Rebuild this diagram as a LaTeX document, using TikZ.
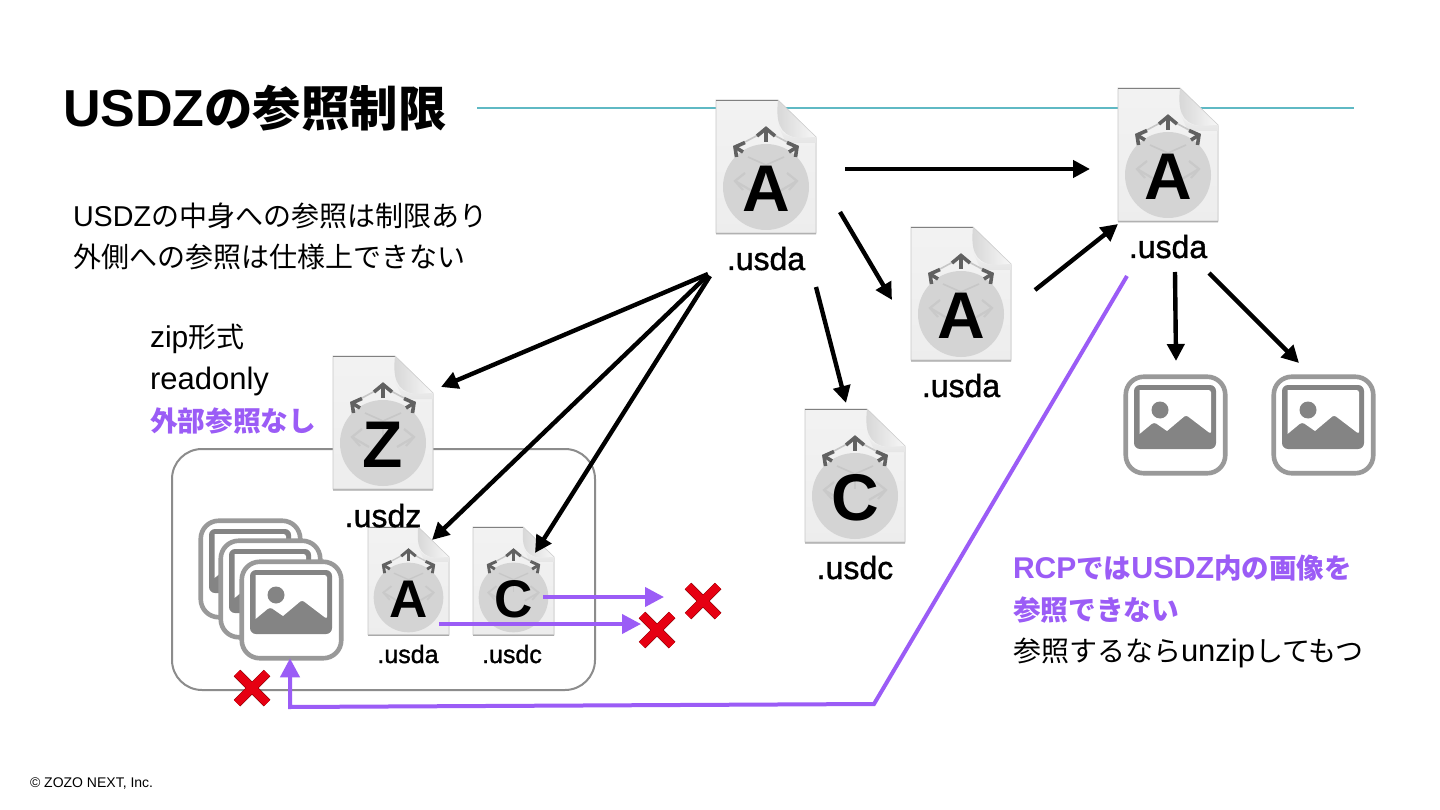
\documentclass[tikz,border=0pt]{standalone}
\usepackage{fontspec}
\setmainfont{Liberation Sans}
\newfontfamily\cj{Noto Sans CJK JP}
\newfontfamily\med[FakeBold=1.2]{Liberation Sans}
\usetikzlibrary{arrows.meta}
\definecolor{pur}{HTML}{9B5CF6}
\definecolor{teal1}{HTML}{5FB9C4}
\definecolor{imgA}{HTML}{999999}
\definecolor{imgB}{HTML}{848484}
\definecolor{redx}{HTML}{E60012}
\tikzset{
  x=1pt,y=-1pt,
  blk/.style={line width=4.4pt,black,-{Triangle[length=17pt,width=17pt]}},
  purp/.style={line width=4pt,pur,line join=miter,-{Triangle[length=19pt,width=19pt]}},
  txt/.style={anchor=base west,inner sep=0pt,outer sep=0pt},
  lab/.style={anchor=base,inner sep=0pt,outer sep=0pt,text=black},
  xdark/.style={line width=9.2pt,color=black!55!red},
  xred/.style={line width=8.2pt,color=redx},
}
\newcommand{\fs}[1]{\fontsize{#1}{#1}\selectfont}
% name, x, y, scale, font size, letter
\newcommand{\fileicon}[6]{%
\begin{scope}[shift={(#2,#3)},scale=#4]
  \def\sc{#4}
  \fill[black!35] (1,1) -- (61,1) -- (100,38) -- (100,134.5) -- (0,134.5) -- cycle;
  \path[top color=white!95!black,bottom color=white!93!black,draw=black!22,line width=.6pt]
     (0,0) -- (62,0) -- (100,37) -- (100,133) -- (0,133) -- cycle;
  \draw[black!50,line width=.7pt] (0,0) -- (62,0);
  \node[inner sep=0pt,outer sep=0pt,minimum width=100*\sc pt,minimum height=133*\sc pt] (#1) at (50,66.5) {};
  \path[left color=black!16,right color=white!97!black] (62,0) .. controls (60,20) and (62,35) .. (82,38) -- (100,37) -- cycle;
  \draw[black!18,line width=.5pt] (62,0) -- (100,37);
  \path[bottom color=black!10,top color=white!94!black] (62,25) .. controls (66,34) and (72,37) .. (82,38) -- (100,37) -- (100,43) -- (70,43) -- cycle;
  \fill[black!17] (50,87) circle (43);
  \begin{scope}[line width=1.6*\sc pt,black!22]
    \draw (29,42) -- (42,35);
    \draw (71,42) -- (58,35);
    \draw (32,57) -- (50,65) -- (68,57);
  \end{scope}
  \begin{scope}[line width=3.6*\sc pt,black!62,line cap=butt,line join=miter]
    \draw (41,36) -- (50,28.5) -- (59,36);
    \draw (50,29) -- (50,42);
    \draw (29,42.5) -- (19,47) -- (20.5,57);
    \draw (19,47) -- (27,52);
    \draw (71,42.5) -- (81,47) -- (79.5,57);
    \draw (81,47) -- (73,52);
  \end{scope}
  \begin{scope}[line width=2.2*\sc pt,black!21]
    \draw (29,73) -- (19,81) -- (27,90);
    \draw (71,73) -- (81,81) -- (73,90);
    \draw (19,81) -- (36,91);
    \draw (81,81) -- (64,91);
    \draw (50,66) -- (50,80);
  \end{scope}
  \node[inner sep=0pt,text=black] at (50,89) {\fs{#5}\bfseries #6};
\end{scope}}
% name, x, y
\newcommand{\imgicon}[3]{%
\begin{scope}[shift={(#2,#3)}]
  \node[inner sep=0pt,outer sep=0pt,minimum width=99.5pt,minimum height=96.5pt,draw=imgA,fill=white,line width=4.6pt,rounded corners=18pt] (#1) at (51.5,50) {};
  \fill[imgB,rounded corners=6pt] (10,10) rectangle (92,74);
  \fill[white] (15.5,15) [rounded corners=2.5pt] -- (87,15) -- (87,59) -- (62,40) [sharp corners] -- (43,56) [rounded corners=3pt] -- (30,47) [sharp corners] -- (15.5,59) -- cycle;
  \fill[imgB] (36,35) circle (8.5);
\end{scope}}
\begin{document}
\begin{tikzpicture}
\useasboundingbox (0,0) rectangle (1440,810);
\fill[white] (0,0) rectangle (1440,810);
\node[txt] (title) at (63,127) {\fs{52}\bfseries USDZ\fs{48.4}\cj\bfseries の参照制限};
\coordinate (ruleA) at (477,108);
\coordinate (ruleB) at (1354,108);
\draw[teal1,line width=1.3pt] (ruleA) -- (ruleB);

\node[txt] (t1) at (73,227) {\fs{28.7}USDZ\fs{28}\cj の中身への参照は制限あり};
\node[txt] (t2) at (73,268) {\fs{28}\cj 外側への参照は仕様上できない};
\node[txt] (t3) at (150,347) {\fs{30}zip\fs{28}\cj 形式};
\node[txt] (t4) at (150,389) {\fs{31}readonly};
\node[txt,text=pur] (t5) at (150,431) {\fs{27.7}\cj\bfseries 外部参照なし};
\node[txt,text=pur] (t6) at (1013,578) {\fs{30}\bfseries RCP\fs{27.5}\cj\bfseries では\fs{30.5}\rmfamily\bfseries USDZ\fs{27.5}\cj\bfseries 内の画像を};
\node[txt,text=pur] (t7) at (1013,620) {\fs{27.7}\cj\bfseries 参照できない};
\node[txt] (t8) at (1013,661) {\fs{28}{\cj 参照するなら}\fs{31}unzip\fs{28}{\cj してもつ}};
\node[txt] (copy) at (30,787) {\fs{14}© ZOZO NEXT, Inc.};

\node[draw=black!45,line width=2pt,rounded corners=30pt,minimum width=423pt,minimum height=241pt,inner sep=0pt] (box) at (383.5,569.5) {};

\fileicon{fileA}{716}{100}{1}{66}{A}
\fileicon{fileB}{1118}{88}{1}{66}{A}
\fileicon{fileM}{911}{227}{1}{66}{A}
\fileicon{fileC}{805}{409}{1}{66}{C}
\fileicon{fileZ}{333}{356}{1}{66}{Z}
\fileicon{smallA}{368}{527}{.81}{53}{A}
\fileicon{smallC}{473}{527}{.81}{53}{C}

\node[lab] (lA) at (766,270) {\fs{32}\med .usda};
\node[lab] (lB) at (1168,258) {\fs{32}\med .usda};
\node[lab] (lM) at (961,397) {\fs{32}\med .usda};
\node[lab] (lC) at (855,579) {\fs{32}\med .usdc};
\node[lab] (lZ) at (383,527) {\fs{32}\med .usdz};
\node[lab] (lsA) at (408,663) {\fs{25}\med .usda};
\node[lab] (lsC) at (512,663) {\fs{25}\med .usdc};

\imgicon{img1}{1124}{375}
\imgicon{img2}{1272}{375}
\imgicon{back}{199}{519}
\imgicon{mid}{219}{539}
\imgicon{front}{240}{560}

% connector ends
\coordinate (a1) at (845,169);   \coordinate (a2) at (1090,169);
\coordinate (b1) at (840,212);   \coordinate (b2) at (892,300);
\coordinate (c1) at (1035,290);  \coordinate (c2) at (1118,224);
\coordinate (d1) at (816,287);   \coordinate (d2) at (846,403);
\coordinate (e1) at (1175,272);  \coordinate (e2) at (1176,361);
\coordinate (f1) at (1209,273);  \coordinate (f2) at (1299,363);
\coordinate (g1) at (708,274);   \coordinate (g2) at (441,387);
\coordinate (h1) at (708,275);   \coordinate (h2) at (432,540);
\coordinate (i1) at (710,276);   \coordinate (i2) at (535,553);
\draw[blk] (a1) -- (a2);
\draw[blk] (b1) -- (b2);
\draw[blk] (c1) -- (c2);
\draw[blk] (d1) -- (d2);
\draw[blk] (e1) -- (e2);
\draw[blk] (f1) -- (f2);
\draw[blk] (g1) -- (g2);
\draw[blk] (h1) -- (h2);
\draw[blk] (i1) -- (i2);

\coordinate (p1) at (543,597);   \coordinate (p2) at (664,597);
\coordinate (q1) at (439,624);   \coordinate (q2) at (641,624);
\coordinate (r1) at (1127,276);  \coordinate (r2) at (874,704);
\coordinate (r3) at (290,707);
\draw[purp] (p1) -- (p2);
\draw[purp] (q1) -- (q2);
\draw[purp] (r1) -- (r2) -- (r3) -- (front.south -| r3);

% red crosses
\foreach \nm/\cx/\cy in {x1/703/601,x2/657/630,x3/252/688}{
  \coordinate (\nm) at (\cx,\cy);
  \draw[xdark] ([shift={(-15,-15)}]\nm) -- ([shift={(15,15)}]\nm);
  \draw[xdark] ([shift={(-15,15)}]\nm) -- ([shift={(15,-15)}]\nm);
  \draw[xred] ([shift={(-15,-15)}]\nm) -- ([shift={(15,15)}]\nm);
  \draw[xred] ([shift={(-15,15)}]\nm) -- ([shift={(15,-15)}]\nm);
}
\end{tikzpicture}
\end{document}
